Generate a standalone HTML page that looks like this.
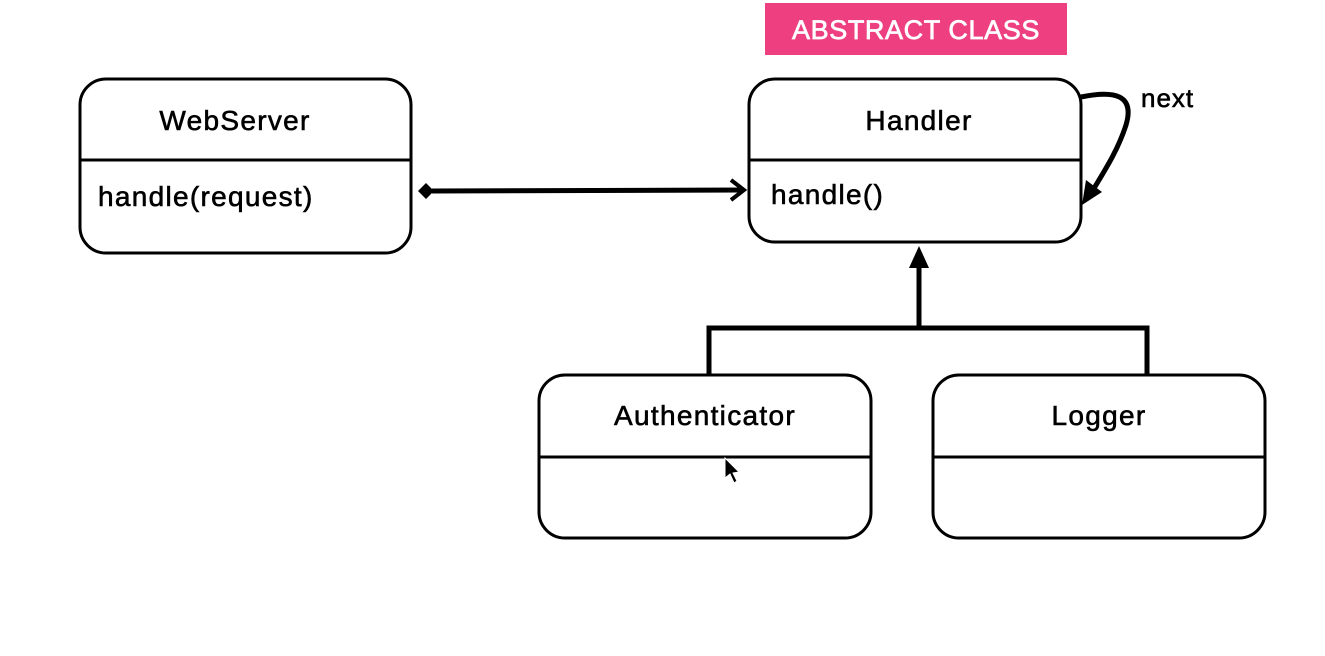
<!DOCTYPE html>
<html><head><meta charset="utf-8"><style>
html,body{margin:0;padding:0;background:#fff;}
svg{display:block;}
text{font-family:"Liberation Sans",sans-serif;fill:#000;stroke:#000;stroke-width:0.6;}
</style></head><body>
<svg width="1325" height="656" viewBox="0 0 1325 656" xmlns="http://www.w3.org/2000/svg">
<rect x="765" y="3" width="302" height="52" fill="#EE3F81"/>
<text x="916" y="39" text-anchor="middle" font-size="27" style="fill:#fff;stroke:#fff;stroke-width:0.7" letter-spacing="0.6">ABSTRACT CLASS</text>
<g fill="none" stroke="#000" stroke-width="3">
<rect x="80" y="79" width="331" height="174" rx="26"/>
<line x1="80" y1="160" x2="411" y2="160"/>
<rect x="749" y="79" width="332" height="163" rx="26"/>
<line x1="749" y1="160" x2="1081" y2="160"/>
<rect x="539" y="375" width="332" height="163" rx="26"/>
<line x1="539" y1="457" x2="871" y2="457"/>
<rect x="933" y="375" width="332" height="163" rx="26"/>
<line x1="933" y1="457" x2="1265" y2="457"/>
</g>
<g fill="none" stroke="#000" stroke-width="5">
<line x1="432" y1="191" x2="744" y2="190"/>
<polyline points="731,180 744,190 731,200" stroke-width="4"/>
<line x1="919" y1="266" x2="919" y2="328"/>
<polyline points="709,375 709,328 1147,328 1147,375"/>
<path d="M1081,97 C1115,90 1135,95 1126,125 C1118,150 1105,170 1093,190"/>
</g>
<polygon points="418,191 426,183 434,191 426,199" fill="#000"/>
<polygon points="919,246 909,268 929,268" fill="#000"/>
<polygon points="1082,205 1086,180 1102,192" fill="#000"/>
<text x="235" y="130" text-anchor="middle" font-size="28" letter-spacing="1.3">WebServer</text>
<text x="98" y="206" font-size="28" letter-spacing="1.3">handle(request)</text>
<text x="919" y="130" text-anchor="middle" font-size="28" letter-spacing="1.3">Handler</text>
<text x="771" y="204" font-size="28" letter-spacing="1.3">handle()</text>
<text x="1141" y="107" font-size="26" letter-spacing="1">next</text>
<text x="705" y="425" text-anchor="middle" font-size="28" letter-spacing="1.3">Authenticator</text>
<text x="1099" y="425" text-anchor="middle" font-size="28" letter-spacing="1.3">Logger</text>
<path d="M725,458 L725,478 L730,474 L734,483 L737,481 L733,473 L739,472 Z" fill="#000" stroke="#fff" stroke-width="1"/>
</svg>
</body></html>
